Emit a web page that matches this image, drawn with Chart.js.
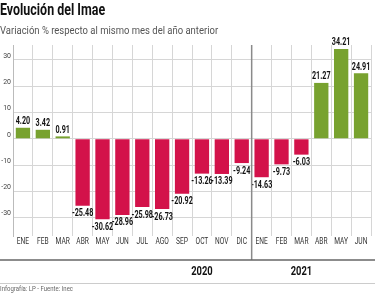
<!DOCTYPE html>
<html>
<head>
<meta charset="utf-8">
<script src="https://cdn.jsdelivr.net/npm/chart.js@4.4.0/dist/chart.umd.min.js"></script>
<style>
  body { margin: 0; background: #fff; }
  #wrap { position: relative; width: 375px; height: 297px; overflow: hidden; }
  .txt { position: absolute; left: 0; white-space: nowrap; font-family: Roboto, 'Noto Sans', sans-serif; transform-origin: 0 0; }
  #title { top: 0px; font-size: 16px; font-weight: bold; color: #111; }
  #subtitle { top: 25px; font-size: 10px; color: #555; }
  #footer { top: 285px; font-size: 7px; color: #666; }
  canvas { position: absolute; left: 0; top: 0; }
</style>
</head>
<body>
<div id="wrap">
  <canvas id="imae" width="375" height="297"></canvas>
  <div id="title" class="txt" data-w="105">Evolución del Imae</div>
  <div id="subtitle" class="txt" data-w="218">Variación % respecto al mismo mes del año anterior</div>
  <div id="footer" class="txt" data-w="73">Infografía: LP - Fuente: Inec</div>
</div>
<script>
// months (2020: ENE-DIC, 2021: ENE-JUN)
var months = ['ENE','FEB','MAR','ABR','MAY','JUN','JUL','AGO','SEP','OCT','NOV','DIC',
              'ENE','FEB','MAR','ABR','MAY','JUN'];
var variacion = [4.20, 3.42, 0.91, -25.48, -30.62, -28.96, -25.98, -26.73, -20.92, -13.26, -13.39, -9.24,
                 -14.63, -9.73, -6.03, 21.27, 34.21, 24.91];
var yTicks = [-30, -20, -10, 0, 10, 20, 30];
var years = ['2020', '2021'];
var yearLabelAt = [9, 14];   // month index under which the year label sits
var firstOf2021 = 12;

var verde = '#78a22f';
var rojo = '#d3124a';
var font = "Roboto, 'Noto Sans', sans-serif";

// the original uses a condensed face, squeeze the text horizontally
document.querySelectorAll('.txt').forEach(function(el) {
  var w = +el.getAttribute('data-w');
  el.style.transform = 'scaleX(' + (w / el.offsetWidth) + ')';
});

function narrowText(ctx, text, x, y, sx) {
  ctx.save();
  ctx.translate(x, y);
  ctx.scale(sx, 1);
  ctx.fillText(text, 0, 0);
  ctx.restore();
}

// value labels above / below each bar
var barLabels = {
  id: 'barLabels',
  afterDatasetsDraw: function(chart) {
    var ctx = chart.ctx;
    var meta = chart.getDatasetMeta(0);
    ctx.save();
    ctx.font = 'bold 10px ' + font;
    ctx.fillStyle = '#111';
    ctx.textAlign = 'center';
    meta.data.forEach(function(bar, i) {
      var v = variacion[i];
      if (v >= 0) {
        ctx.textBaseline = 'bottom';
        narrowText(ctx, v.toFixed(2), bar.x, bar.y - 1, 0.72);
      } else {
        ctx.textBaseline = 'top';
        narrowText(ctx, v.toFixed(2), bar.x, bar.y + 3, 0.72);
      }
    });
    ctx.restore();
  }
};

// month labels, year separator, bottom rules and year labels
var yearBand = {
  id: 'yearBand',
  afterDraw: function(chart) {
    var ctx = chart.ctx;
    var x = chart.scales.x;
    var area = chart.chartArea;
    var sepX = (x.getPixelForValue(firstOf2021 - 1) + x.getPixelForValue(firstOf2021)) / 2;
    ctx.save();

    ctx.font = '8.5px ' + font;
    ctx.fillStyle = '#333';
    ctx.textAlign = 'center';
    ctx.textBaseline = 'middle';
    months.forEach(function(m, i) {
      narrowText(ctx, m, x.getPixelForValue(i), area.bottom + 6, 0.78);
    });

    ctx.strokeStyle = '#8a8a8a';
    ctx.lineWidth = 1.5;
    ctx.beginPath();
    ctx.moveTo(sepX, area.top);
    ctx.lineTo(sepX, 260);
    ctx.stroke();

    ctx.strokeStyle = '#666';
    ctx.lineWidth = 1.5;
    ctx.beginPath();
    ctx.moveTo(0, 260);
    ctx.lineTo(375, 260);
    ctx.stroke();

    ctx.strokeStyle = '#ccc';
    ctx.lineWidth = 1;
    ctx.beginPath();
    ctx.moveTo(0, 283.5);
    ctx.lineTo(375, 283.5);
    ctx.stroke();

    ctx.font = 'bold 12px ' + font;
    ctx.fillStyle = '#111';
    years.forEach(function(y, i) {
      narrowText(ctx, y, x.getPixelForValue(yearLabelAt[i]), 272, 0.78);
    });
    ctx.restore();
  }
};

var chartImae = new Chart(
  document.getElementById('imae'),
  {
    type: 'bar',
    data: {
      labels: months,
      datasets: [
        {
          data: variacion,
          backgroundColor: variacion.map(v => v >= 0 ? verde : rojo),
          borderWidth: 0,
          barPercentage: 0.72,
          categoryPercentage: 1
        }
      ]
    },
    options: {
      responsive: false,
      animation: false,
      layout: {
        padding: { top: 45, right: 4, bottom: 47, left: 0 }
      },
      plugins: {
        legend: { display: false },
        tooltip: { enabled: false }
      },
      scales: {
        x: {
          grid: { color: '#d6d6d6', lineWidth: 1, drawTicks: false, offset: true },
          border: { display: false },
          ticks: { display: false },
          afterFit: function(scale) { scale.height = 14; }
        },
        y: {
          min: -37,
          max: 35.7,
          afterBuildTicks: function(scale) {
            scale.ticks = yTicks.map(v => ({ value: v }));
          },
          grid: { color: '#d6d6d6', lineWidth: 1, drawTicks: false },
          border: { display: true, color: '#bbb', width: 1 },
          ticks: {
            font: { family: font, size: 7 },
            color: '#444',
            padding: 2,
            labelOffset: -4
          },
          afterFit: function(scale) { scale.width = 13; }
        }
      }
    },
    plugins: [barLabels, yearBand]
  }
);
</script>
</body>
</html>
